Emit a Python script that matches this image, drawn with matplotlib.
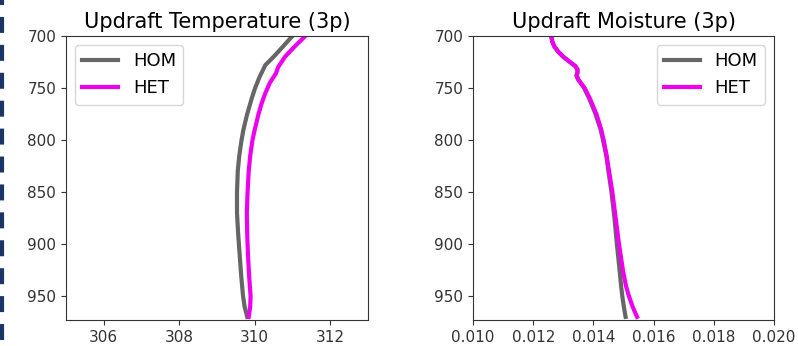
import numpy as np
import matplotlib
matplotlib.use("Agg")
import matplotlib.pyplot as plt
from matplotlib.lines import Line2D

plt.rcParams["lines.scale_dashes"] = False

# pressure levels (hPa)
p_t_hom = [700, 710, 720, 728, 740, 750, 760, 775, 790, 800, 815, 830, 850, 870, 890, 910, 930, 950, 960, 970]
t_hom = [311.00, 310.75, 310.50, 310.28, 310.12, 310.01, 309.92, 309.80, 309.70, 309.65,
         309.59, 309.55, 309.53, 309.53, 309.56, 309.60, 309.64, 309.69, 309.73, 309.80]
p_t_het = [700, 710, 720, 730, 736, 745, 755, 765, 775, 790, 800, 815, 830, 850, 870, 890, 910, 930, 950, 960, 970]
t_het = [311.34, 311.06, 310.80, 310.62, 310.56, 310.40, 310.28, 310.18, 310.10, 310.00, 309.94,
         309.88, 309.84, 309.81, 309.79, 309.80, 309.82, 309.85, 309.89, 309.88, 309.84]

p_moist = [700, 705, 710, 715, 720, 725, 729, 732, 735, 738, 742, 750, 760, 775, 790, 800,
           815, 830, 850, 875, 900, 925, 940, 950, 960, 970]
q_hom = [0.01260, 0.01263, 0.01270, 0.01283, 0.01300, 0.01322, 0.01340, 0.01347, 0.01347, 0.01344,
         0.01350, 0.01369, 0.01386, 0.01407, 0.01424, 0.01432, 0.01443, 0.01450, 0.01460, 0.01470,
         0.01478, 0.01487, 0.01492, 0.01496, 0.01501, 0.01507]
q_het = [0.01260, 0.01263, 0.01270, 0.01283, 0.01300, 0.01322, 0.01340, 0.01347, 0.01347, 0.01344,
         0.01350, 0.01371, 0.01388, 0.01410, 0.01426, 0.01434, 0.01444, 0.01452, 0.01463, 0.01474,
         0.01485, 0.01498, 0.01508, 0.01518, 0.01530, 0.01545]

HOM_COLOR = "#666666"
HET_COLOR = "#ee00ee"

fig = plt.figure(figsize=(7.98, 3.46), dpi=100)
ax1 = fig.add_axes([66 / 798, 26 / 346, 302 / 798, 284 / 346])
ax2 = fig.add_axes([473 / 798, 26 / 346, 301 / 798, 284 / 346])

ax1.plot(t_hom, p_t_hom, color=HOM_COLOR, lw=3, label="HOM")
ax1.plot(t_het, p_t_het, color=HET_COLOR, lw=3, label="HET")
ax1.set_xlim(305, 313)
ax1.set_xticks([306, 308, 310, 312])
ax1.set_title("Updraft Temperature (3p)", fontsize=15)
ax1.legend(loc="upper left", fontsize=13)

ax2.plot(q_hom, p_moist, color=HOM_COLOR, lw=3, label="HOM")
ax2.plot(q_het, p_moist, color=HET_COLOR, lw=3, label="HET")
ax2.set_xlim(0.010, 0.020)
ax2.set_xticks([0.010, 0.012, 0.014, 0.016, 0.018, 0.020])
ax2.set_title("Updraft Moisture (3p)", fontsize=15)
ax2.legend(loc="upper right", fontsize=13)

for ax in (ax1, ax2):
    ax.set_ylim(973, 700)
    ax.set_yticks([700, 750, 800, 850, 900, 950])
    ax.tick_params(labelsize=11, colors="#333333")
    for s in ax.spines.values():
        s.set_color("#333333")

# dashed border at left edge of the screenshot, dash lengths in points
fig.add_artist(Line2D([2 / 798, 2 / 798], [1.0, 0.0], transform=fig.transFigure,
                      color="#1b3566", lw=3, linestyle=(7.9, (11.5, 8.6)),
                      dash_capstyle="butt"))

fig.savefig("out.png", dpi=100)
